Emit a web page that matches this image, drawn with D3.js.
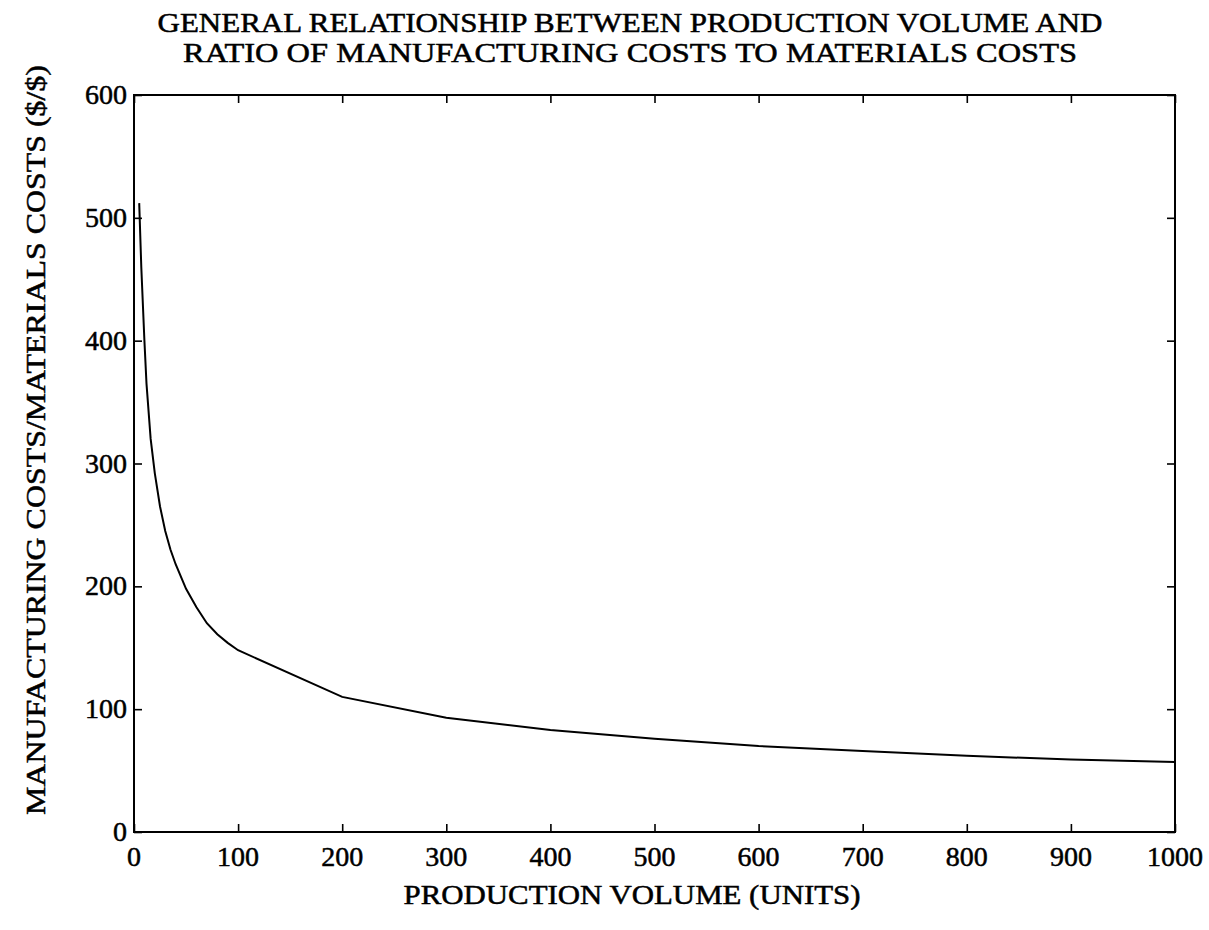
<!DOCTYPE html>
<html>
<head>
<meta charset="utf-8">
<script src="https://cdn.jsdelivr.net/npm/d3@7"></script>
<style>
  body { margin: 0; background: #fff; }
  text { font-family: "Liberation Serif", "DejaVu Serif", serif; fill: #000; stroke: #000; stroke-width: 0.5px; }
</style>
</head>
<body>
<div id="chart"></div>
<script>
// Data
const volume = [5, 7, 10, 12, 16, 20, 25, 30, 35, 40, 50, 60, 70, 80, 90, 100, 200, 300, 400, 500, 600, 700, 800, 900, 1000];
const ratio  = [512, 460, 400, 365, 320, 292, 265, 245, 230, 218, 198, 183, 170, 161, 154, 148, 110, 93, 83, 76, 70, 66, 62, 59, 57];
const xTicks = [0, 100, 200, 300, 400, 500, 600, 700, 800, 900, 1000];
const yTicks = [0, 100, 200, 300, 400, 500, 600];

const width = 1209, height = 930;
const margin = {top: 95, right: 34, bottom: 98, left: 134};

const svg = d3.select("#chart")
  .append("svg")
  .attr("width", width)
  .attr("height", height);

const x = d3.scaleLinear()
  .domain([0, 1000])
  .range([margin.left, width - margin.right]);
const y = d3.scaleLinear()
  .domain([0, 600])
  .range([height - margin.bottom, margin.top]);

const tickLen = 8;

// Frame
svg.append("rect")
  .attr("x", x(0)).attr("y", y(600))
  .attr("width", x(1000) - x(0))
  .attr("height", y(0) - y(600))
  .attr("fill", "none")
  .attr("stroke", "#000")
  .attr("stroke-width", 2);

// Inner ticks on all four sides
svg.append("g")
  .attr("transform", `translate(0,${y(0)})`)
  .call(d3.axisBottom(x).tickValues(xTicks).tickSize(-tickLen).tickFormat(""))
  .call(g => g.select(".domain").remove());
svg.append("g")
  .attr("transform", `translate(0,${y(600)})`)
  .call(d3.axisTop(x).tickValues(xTicks).tickSize(-tickLen).tickFormat(""))
  .call(g => g.select(".domain").remove());
svg.append("g")
  .attr("transform", `translate(${x(0)},0)`)
  .call(d3.axisLeft(y).tickValues(yTicks).tickSize(-tickLen).tickFormat(""))
  .call(g => g.select(".domain").remove());
svg.append("g")
  .attr("transform", `translate(${x(1000)},0)`)
  .call(d3.axisRight(y).tickValues(yTicks).tickSize(-tickLen).tickFormat(""))
  .call(g => g.select(".domain").remove());
svg.selectAll(".tick line").attr("stroke", "#000").attr("stroke-width", 1.6);

// Tick labels
svg.append("g").selectAll("text")
  .data(xTicks)
  .enter()
  .append("text")
  .attr("x", d => x(d))
  .attr("y", y(0) + 34)
  .attr("text-anchor", "middle")
  .attr("font-size", "28px")
  .text(d => d);

svg.append("g").selectAll("text")
  .data(yTicks)
  .enter()
  .append("text")
  .attr("x", x(0) - 7)
  .attr("y", d => y(d) + 9)
  .attr("text-anchor", "end")
  .attr("font-size", "28px")
  .text(d => d);

// Curve
const points = volume.map((v, i) => [v, ratio[i]]);
svg.append("path")
  .datum(points)
  .attr("fill", "none")
  .attr("stroke", "#000")
  .attr("stroke-width", 2)
  .attr("d", d3.line().x(d => x(d[0])).y(d => y(d[1])));

// Titles
svg.append("text")
  .attr("x", 630).attr("y", 32)
  .attr("text-anchor", "middle")
  .attr("font-size", "27px")
  .attr("textLength", 945)
  .attr("lengthAdjust", "spacingAndGlyphs")
  .text("GENERAL RELATIONSHIP BETWEEN PRODUCTION VOLUME AND");
svg.append("text")
  .attr("x", 630).attr("y", 62)
  .attr("text-anchor", "middle")
  .attr("font-size", "27px")
  .attr("textLength", 894)
  .attr("lengthAdjust", "spacingAndGlyphs")
  .text("RATIO OF MANUFACTURING COSTS TO MATERIALS COSTS");

svg.append("text")
  .attr("x", 632).attr("y", 904)
  .attr("text-anchor", "middle")
  .attr("font-size", "27px")
  .attr("textLength", 457)
  .attr("lengthAdjust", "spacingAndGlyphs")
  .text("PRODUCTION VOLUME (UNITS)");

svg.append("text")
  .attr("transform", "rotate(-90)")
  .attr("x", -440).attr("y", 45)
  .attr("text-anchor", "middle")
  .attr("font-size", "27px")
  .attr("textLength", 750)
  .attr("lengthAdjust", "spacingAndGlyphs")
  .text("MANUFACTURING COSTS/MATERIALS COSTS ($/$)");
</script>
</body>
</html>
